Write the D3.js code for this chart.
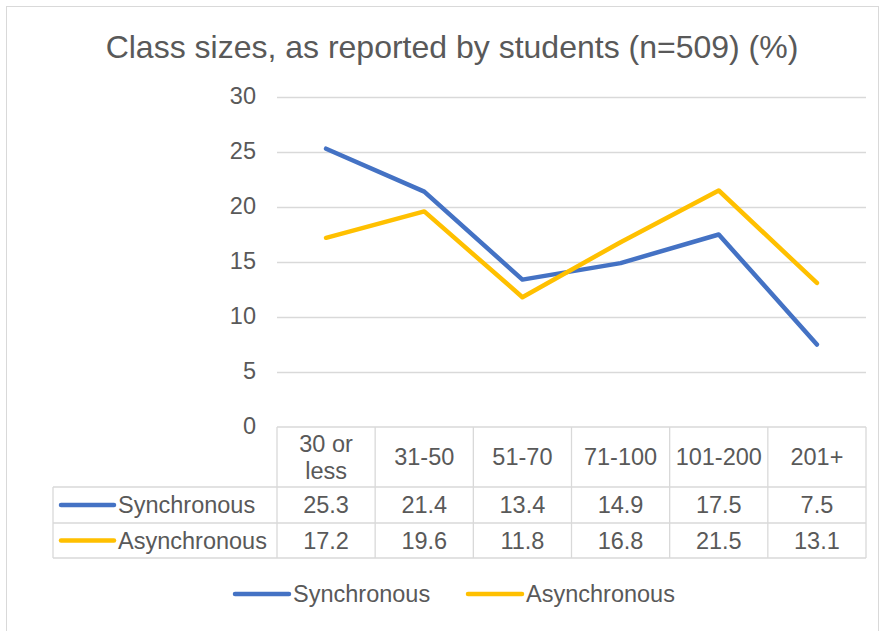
<!DOCTYPE html>
<html>
<head>
<meta charset="utf-8">
<script src="https://cdn.jsdelivr.net/npm/d3@7"></script>
<style>
  body { margin: 0; background: #fff; }
  svg { display: block; font-family: "Liberation Sans", Arial, sans-serif; }
</style>
</head>
<body>
<svg id="chart" width="885" height="631"></svg>
<script>
const categories   = ["30 or\nless", "31-50", "51-70", "71-100", "101-200", "201+"];
const synchronous  = [25.3, 21.4, 13.4, 14.9, 17.5, 7.5];
const asynchronous = [17.2, 19.6, 11.8, 16.8, 21.5, 13.1];
const yTicks       = [0, 5, 10, 15, 20, 25, 30];
const seriesNames  = ["Synchronous", "Asynchronous"];
const seriesColors = ["#4472C4", "#FFC000"];

const series = [synchronous, asynchronous].map((vals, i) => ({
  name: seriesNames[i], color: seriesColors[i], values: vals
}));

const svg = d3.select("#chart");
const txt = "#595959", grid = "#d9d9d9";
const fs = 23.5;

// outer chart border
svg.append("rect").attr("x", 6.5).attr("y", 6.5).attr("width", 872).attr("height", 630)
   .attr("fill", "none").attr("stroke", grid);

svg.append("text").attr("x", 452).attr("y", 58).attr("text-anchor", "middle")
   .attr("font-size", 32).attr("fill", txt)
   .text("Class sizes, as reported by students (n=509) (%)");

const plot = { left: 277, right: 866, top: 97, bottom: 427 };
const x = d3.scaleBand().domain(d3.range(categories.length)).range([plot.left, plot.right]);
const y = d3.scaleLinear().domain([0, 30]).range([plot.bottom, plot.top]);

// gridlines + y labels
svg.append("g").selectAll("line").data(yTicks.filter(t => t > 0)).join("line")
   .attr("x1", plot.left).attr("x2", plot.right)
   .attr("y1", d => Math.round(y(d)) + 0.5).attr("y2", d => Math.round(y(d)) + 0.5)
   .attr("stroke", grid).attr("stroke-width", 1.3);
svg.append("g").selectAll("text").data(yTicks).join("text")
   .attr("x", 256).attr("y", d => y(d) + 7).attr("text-anchor", "end")
   .attr("font-size", fs).attr("fill", txt).text(d => d);

// lines
const line = d3.line().x((d, i) => x(i) + x.bandwidth() / 2).y(d => y(d));
svg.append("g").selectAll("path").data(series).join("path")
   .attr("d", d => line(d.values)).attr("fill", "none")
   .attr("stroke", d => d.color).attr("stroke-width", 4.5)
   .attr("stroke-linecap", "round").attr("stroke-linejoin", "round");

// data table
const tbl = { left: 53, rows: [427, 487, 523, 558] };
const tg = svg.append("g").attr("stroke", grid).attr("stroke-width", 1.3);
tbl.rows.forEach((ry, i) => {
  tg.append("line").attr("x1", i === 0 ? plot.left : tbl.left).attr("x2", plot.right)
    .attr("y1", ry).attr("y2", ry);
});
d3.range(categories.length + 1).forEach(i => {
  const cx = i < categories.length ? x(i) : plot.right;
  tg.append("line").attr("x1", cx).attr("x2", cx).attr("y1", tbl.rows[0]).attr("y2", tbl.rows[3]);
});
tg.append("line").attr("x1", tbl.left).attr("x2", tbl.left).attr("y1", tbl.rows[1]).attr("y2", tbl.rows[3]);

// header cells
categories.forEach((c, i) => {
  const parts = c.split("\n");
  const cx = x(i) + x.bandwidth() / 2;
  const mid = (tbl.rows[0] + tbl.rows[1]) / 2;
  parts.forEach((p, j) => {
    svg.append("text").attr("x", cx)
       .attr("y", mid + 8 + (j - (parts.length - 1) / 2) * 27)
       .attr("text-anchor", "middle").attr("font-size", fs).attr("fill", txt).text(p);
  });
});

// value rows
series.forEach((s, r) => {
  const mid = (tbl.rows[r + 1] + tbl.rows[r + 2]) / 2;
  s.values.forEach((v, i) => {
    svg.append("text").attr("x", x(i) + x.bandwidth() / 2).attr("y", mid + 8)
       .attr("text-anchor", "middle").attr("font-size", fs).attr("fill", txt).text(v.toFixed(1));
  });
  svg.append("line").attr("x1", 61).attr("x2", 114).attr("y1", mid).attr("y2", mid)
     .attr("stroke", s.color).attr("stroke-width", 4.5).attr("stroke-linecap", "round");
  svg.append("text").attr("x", 118).attr("y", mid + 8).attr("font-size", fs)
     .attr("fill", txt).text(s.name);
});

// bottom legend
const legX = [235, 468];
series.forEach((s, i) => {
  svg.append("line").attr("x1", legX[i]).attr("x2", legX[i] + 54).attr("y1", 594).attr("y2", 594)
     .attr("stroke", s.color).attr("stroke-width", 4.5).attr("stroke-linecap", "round");
  svg.append("text").attr("x", legX[i] + 58).attr("y", 602).attr("font-size", fs)
     .attr("fill", txt).text(s.name);
});
</script>
</body>
</html>
